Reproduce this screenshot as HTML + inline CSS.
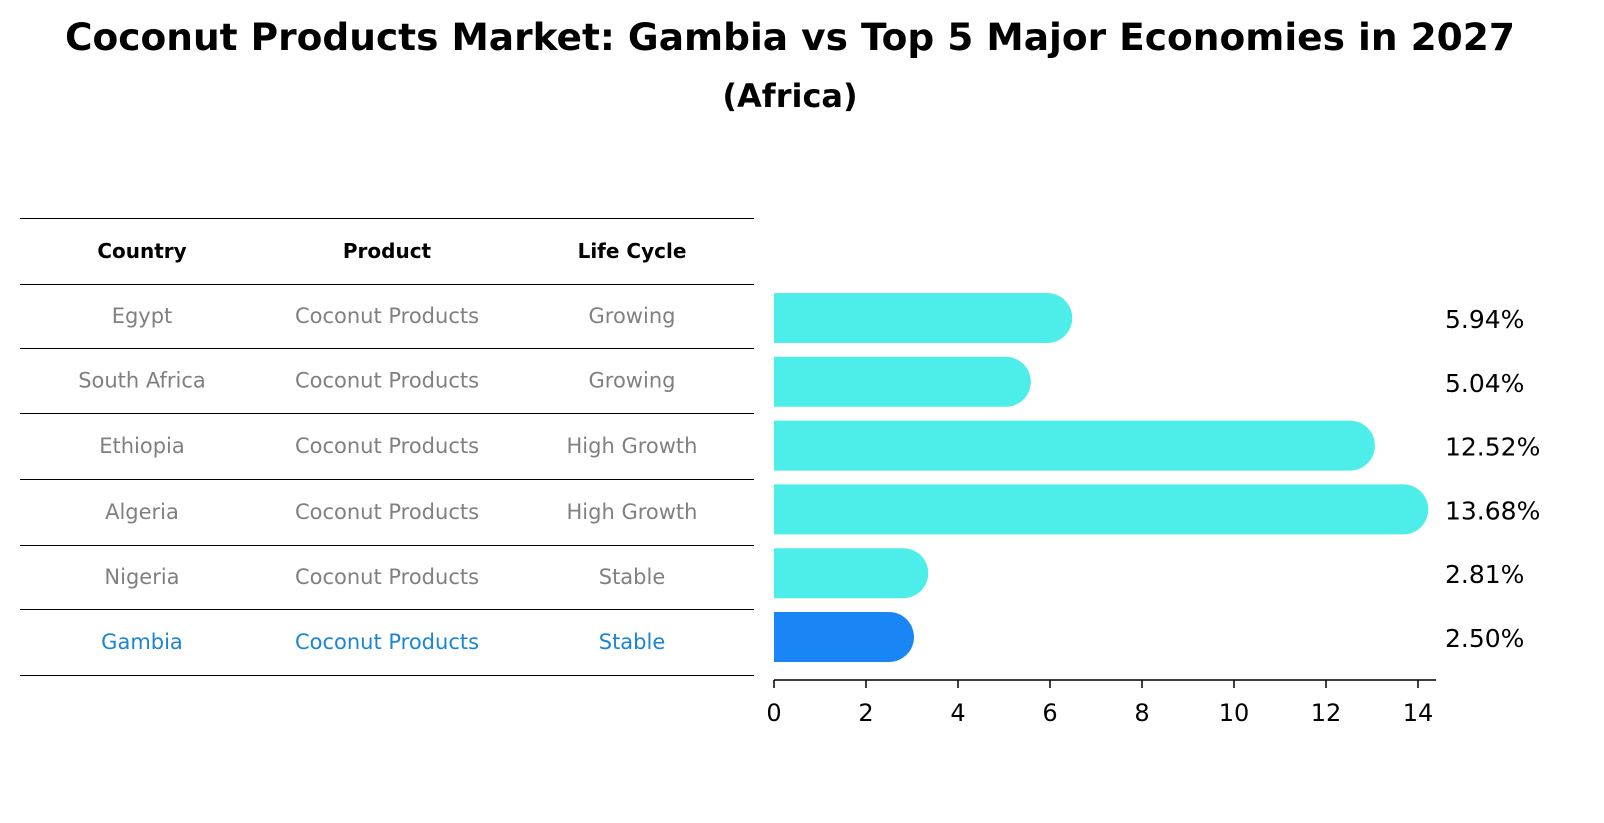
<!DOCTYPE html>
<html><head><meta charset="utf-8"><style>
html,body{margin:0;padding:0;background:#fff;overflow:hidden;width:1604px;height:823px;}
svg{display:block;}
</style></head><body>
<svg width="1604" height="823" xmlns="http://www.w3.org/2000/svg" font-family="DejaVu Sans, Liberation Sans, sans-serif">
<text x="790" y="50" text-anchor="middle" font-size="37.5" font-weight="bold">Coconut Products Market: Gambia vs Top 5 Major Economies in 2027</text>
<text x="790" y="107" text-anchor="middle" font-size="32" font-weight="bold">(Africa)</text>
<g id="table"></g>
<g id="bars"></g>
</svg>
<script>
const countries=["Egypt","South Africa","Ethiopia","Algeria","Nigeria","Gambia"];
const products=["Coconut Products","Coconut Products","Coconut Products","Coconut Products","Coconut Products","Coconut Products"];
const lifecycle=["Growing","Growing","High Growth","High Growth","Stable","Stable"];
const values=[5.94,5.04,12.52,13.68,2.81,2.50];
const ticks=[0,2,4,6,8,10,12,14];
const NS="http://www.w3.org/2000/svg";
function mk(p,t,a,txt){const e=document.createElementNS(NS,t);for(const k in a)e.setAttribute(k,a[k]);if(txt!==undefined)e.textContent=txt;p.appendChild(e);return e;}
const tb=document.getElementById('table');
const lines=[218,284,348,413,479,545,609,675];
lines.forEach(y=>{const l=mk(tb,'line',{x1:20,x2:754,y1:y+0.5,y2:y+0.5,stroke:'#000','stroke-width':1});

});
const cx=[142,387,632];
["Country","Product","Life Cycle"].forEach((h,i)=>{const t=mk(tb,'text',{x:cx[i],y:258,'text-anchor':'middle','font-size':20,'font-weight':'bold'},h);

});
countries.forEach((c,i)=>{const y=(lines[i+1]+lines[i+2])/2+7;const col=c==="Gambia"?'#1a85d6':'#808080';
[c,products[i],lifecycle[i]].forEach((v,j)=>{const t=mk(tb,'text',{x:cx[j],y:y,'text-anchor':'middle','font-size':21,fill:col},v);

});});
const bg=document.getElementById('bars');
const x0=774,ppu=46;const X=v=>x0+v*ppu;
const Y=i=>318+i*63.8;
const h=50,r=25;
values.forEach((v,i)=>{const col=countries[i]==="Gambia"?'#1a85f5':'#4deeea';
const xe=X(v),yc=Y(i);
const p=mk(bg,'path',{d:`M${x0},${yc-h/2}H${xe}A${r},${r} 0 0 1 ${xe},${yc+h/2}H${x0}Z`,fill:col});


const t=mk(bg,'text',{x:1445,y:yc+10,'font-size':25},v.toFixed(2)+'%');

});
const ax=mk(bg,'line',{x1:x0,x2:1436,y1:680,y2:680,stroke:'#000','stroke-width':1.5});


ticks.forEach(t=>{const l=mk(bg,'line',{x1:X(t),x2:X(t),y1:680,y2:688,stroke:'#000','stroke-width':1.5});


const tx=mk(bg,'text',{x:X(t),y:721,'text-anchor':'middle','font-size':24},String(t));

});
</script>
</body></html>
